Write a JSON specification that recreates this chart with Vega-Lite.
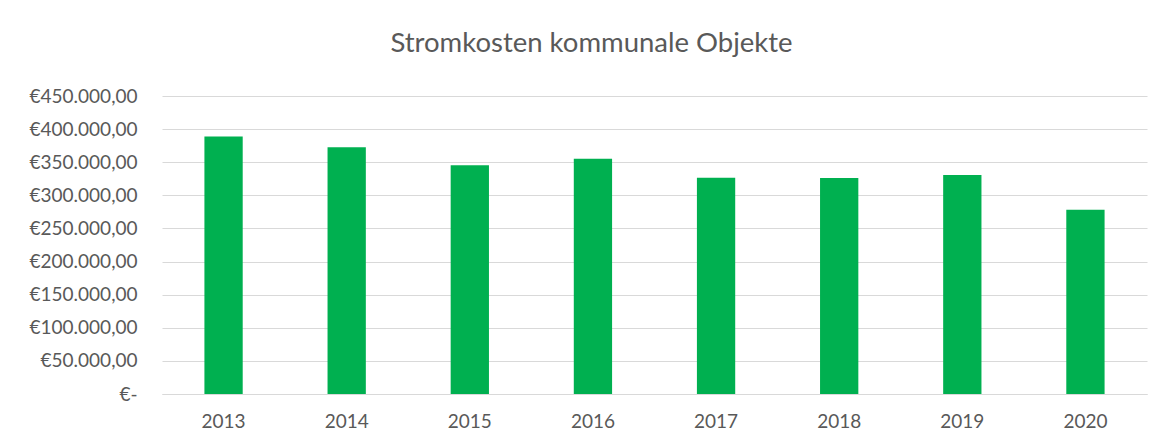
{
  "$schema": "https://vega.github.io/schema/vega-lite/v6.json",
  "autosize": "none",
  "width": 985,
  "height": 298,
  "padding": {"left": 162, "top": 96, "right": 22, "bottom": 52},
  "background": "white",
  "title": {
    "text": "Stromkosten kommunale Objekte",
    "font": "Lato",
    "fontSize": 27.5,
    "fontWeight": "normal",
    "color": "#595959",
    "anchor": "middle",
    "frame": "group",
    "baseline": "alphabetic",
    "offset": 8,
    "dx": -63
  },
  "data": {
    "values": [
      {"Jahr": "2013", "Kosten": 389000},
      {"Jahr": "2014", "Kosten": 372500},
      {"Jahr": "2015", "Kosten": 345400},
      {"Jahr": "2016", "Kosten": 355300},
      {"Jahr": "2017", "Kosten": 326700},
      {"Jahr": "2018", "Kosten": 326200},
      {"Jahr": "2019", "Kosten": 330700},
      {"Jahr": "2020", "Kosten": 278300}
    ]
  },
  "mark": {"type": "bar", "color": "#00B050"},
  "encoding": {
    "x": {
      "field": "Jahr",
      "type": "nominal",
      "scale": {"paddingInner": 0.689, "paddingOuter": 0.3445},
      "axis": {
        "title": null,
        "labelAngle": 0,
        "labelFont": "Lato",
        "labelFontSize": 19,
        "labelColor": "#595959",
        "labelPadding": 18,
        "ticks": false,
        "domainColor": "#D9D9D9",
        "domainWidth": 1,
        "grid": false
      }
    },
    "y": {
      "field": "Kosten",
      "type": "quantitative",
      "scale": {"domain": [0, 450000], "nice": false},
      "axis": {
        "title": null,
        "values": [0, 50000, 100000, 150000, 200000, 250000, 300000, 350000, 400000, 450000],
        "labelExpr": "datum.value == 0 ? '€-\u2007' : '€' + format(datum.value / 1000, 'd') + '.000,00'",
        "labelFont": "Lato",
        "labelFontSize": 19,
        "labelColor": "#595959",
        "labelPadding": 25,
        "ticks": false,
        "domain": false,
        "grid": true,
        "gridColor": "#D9D9D9",
        "gridWidth": 1
      }
    }
  },
  "config": {"view": {"stroke": null}}
}
